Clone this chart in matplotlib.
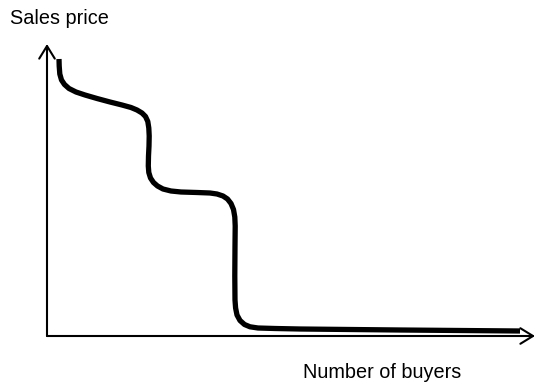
import matplotlib.pyplot as plt

plt.rcParams['font.family'] = ['Liberation Sans', 'DejaVu Sans']

# demand curve, sketched: number of buyers vs. sales price (axis units)
buyers = [12, 12.2, 12.8, 14.5, 17.5, 22, 29, 38, 50, 63, 75, 84, 90, 95, 98.5,
          100.8, 101.8, 102.2, 102, 101.5, 101.3, 101.8, 103.5, 106.5, 110.5, 116,
          124, 134, 150, 163, 170, 176, 180.5, 184, 186.5, 187.8, 188.2, 188,
          187.8, 188, 188.6, 190, 193, 197.5, 203, 211, 228, 253, 353, 473]
price = [277, 270, 262, 256, 251.5, 247.5, 244, 241, 237.5, 234, 231, 228.5, 226, 223,
         219.5, 214.5, 208, 200, 190, 180, 170, 163.5, 158, 153.5, 150, 147,
         145, 144, 143.5, 143, 142, 140, 137, 132.5, 126.5, 119, 110, 90,
         60, 36, 28, 21, 15.5, 11.5, 9.2, 8, 7.5, 7, 6, 5]

x_label = 'Number of buyers'
y_label = 'Sales price'

fig = plt.figure(figsize=(5.36, 3.86), dpi=100)
ax = fig.add_axes([0, 0, 1, 1])
ax.set_xlim(-47, 489)
ax.set_ylim(-50, 336)
ax.axis('off')

# axes drawn as open arrows
arrow = dict(arrowstyle='->,head_length=0.65,head_width=0.4', lw=1.5,
             color='black', shrinkA=0, shrinkB=0, mutation_scale=14)
ax.annotate('', xy=(0, 292), xytext=(0, 0), arrowprops=arrow)
ax.annotate('', xy=(488, 0), xytext=(0, 0), arrowprops=arrow)

ax.plot(buyers, price, color='black', lw=3.8, solid_capstyle='butt',
        solid_joinstyle='round')

fig.text(10 / 536, 1 - 24 / 386, y_label, fontsize=14.3, va='baseline', ha='left')
fig.text(303 / 536, 1 - 378 / 386, x_label, fontsize=14.3, va='baseline', ha='left')

fig.savefig('out.png', dpi=100)
